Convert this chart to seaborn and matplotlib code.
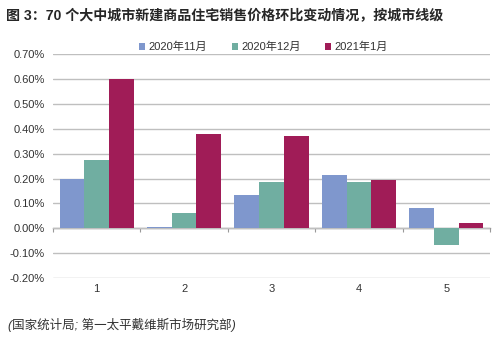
import matplotlib
matplotlib.use("Agg")
import matplotlib.pyplot as plt
import seaborn as sns
import pandas as pd
from matplotlib.patches import Patch

categories = ["1", "2", "3", "4", "5"]
series_names = ["2020年11月", "2020年12月", "2021年1月"]
nov2020 = [0.200, 0.005, 0.133, 0.214, 0.082]
dec2020 = [0.275, 0.060, 0.186, 0.186, -0.068]
jan2021 = [0.600, 0.380, 0.370, 0.193, 0.023]
yticks = [-0.2, -0.1, 0.0, 0.1, 0.2, 0.3, 0.4, 0.5, 0.6, 0.7]

colors = ["#7F97CD", "#70AEA1", "#A01C57"]

rows = []
for name, vals in zip(series_names, [nov2020, dec2020, jan2021]):
    for c, v in zip(categories, vals):
        rows.append({"cat": c, "series": name, "value": v})
df = pd.DataFrame(rows)

sns.set_theme(style="white")
plt.rcParams["font.family"] = ["Liberation Sans", "Noto Sans CJK SC", "DejaVu Sans"]

fig = plt.figure(figsize=(5.0, 3.4), dpi=100)
ax = fig.add_axes([0.106, 0.182, 0.874, 0.659])

sns.barplot(data=df, x="cat", y="value", hue="series", palette=colors,
            width=0.85, gap=0, saturation=1, ax=ax, legend=False,
            linewidth=0, edgecolor="none")

ax.set_ylim(-0.2, 0.7)
ax.set_xlim(-0.5, 4.5)
ax.set_yticks(yticks)
ax.set_yticklabels([f"{v:.2f}%" for v in yticks], fontsize=8, color="#333333")
ax.yaxis.grid(True, color="#BFBFBF", linewidth=1.0)
ax.set_axisbelow(True)
for s in ["top", "right", "left", "bottom"]:
    ax.spines[s].set_visible(False)
ax.tick_params(axis="y", length=0, pad=6)
ax.tick_params(axis="x", length=0, pad=4, labelsize=8, labelcolor="#333333")
ax.set_xlabel("")
ax.set_ylabel("")

# zero axis line with boundary ticks
sec = ax.secondary_xaxis(0.2 / 0.9)
sec.set_xticks([-0.5, 0.5, 1.5, 2.5, 3.5, 4.5])
sec.set_xticklabels([])
sec.tick_params(axis="x", length=3, color="#999999", width=0.8)
sec.spines["bottom"].set_color("#999999")
sec.spines["bottom"].set_linewidth(1.0)

handles = [Patch(facecolor=c, edgecolor="none") for c in colors]
fig.legend(handles, series_names, loc="center", ncol=3,
           bbox_to_anchor=(0.527, 0.862), frameon=False, fontsize=8,
           handlelength=0.55, handleheight=0.55, handletextpad=0.3,
           columnspacing=2.2, labelcolor="#333333")

fig.text(0.012, 0.955, "图 3：70 个大中城市新建商品住宅销售价格环比变动情况，按城市线级",
         fontsize=10.1, fontweight="bold", ha="left", va="center",
         family=["Liberation Sans", "Noto Sans CJK SC"])
fig.text(0.016, 0.045, "(国家统计局; 第一太平戴维斯市场研究部)",
         fontsize=9, style="italic", ha="left", va="center", color="#333333",
         family=["Liberation Sans", "Noto Sans CJK SC"])

fig.savefig("out.png", dpi=100, facecolor="white")
